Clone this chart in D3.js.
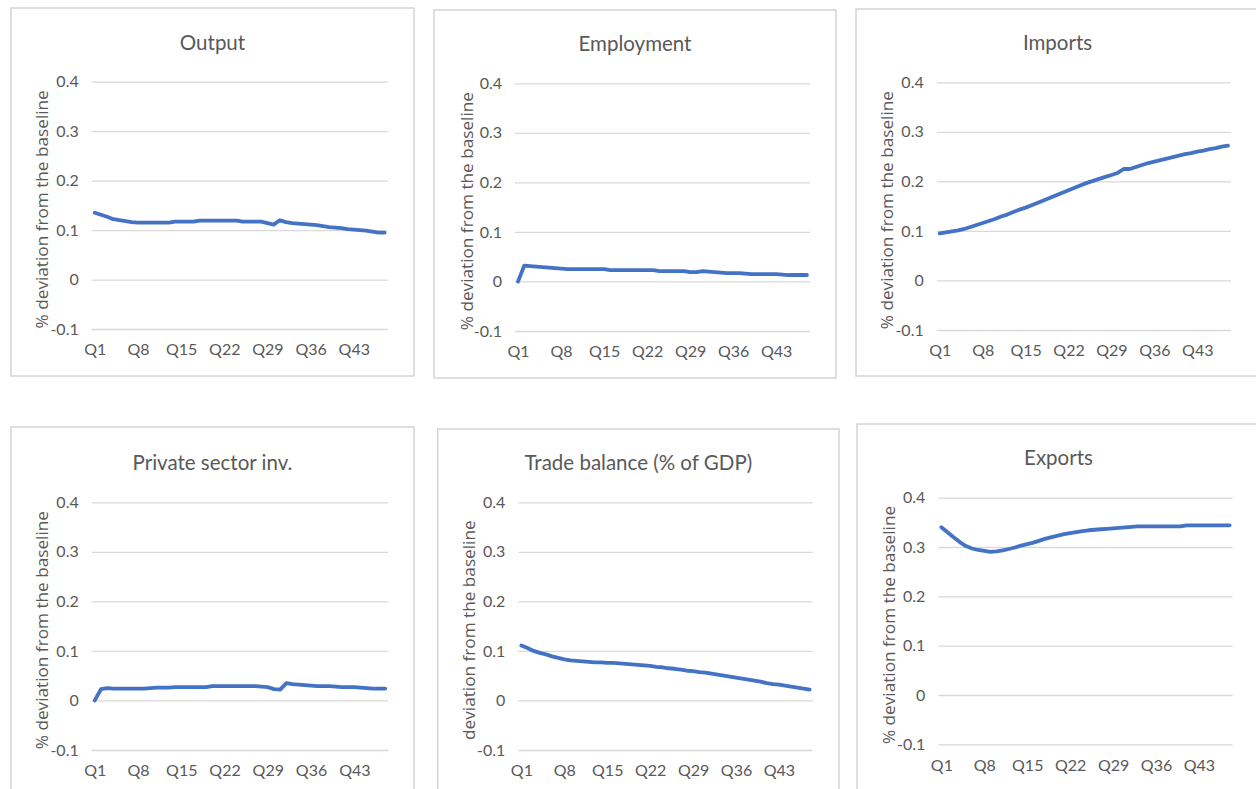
<!DOCTYPE html>
<html>
<head>
<meta charset="utf-8">
<script src="https://cdn.jsdelivr.net/npm/d3@7"></script>
<style>
  html, body { margin: 0; padding: 0; background: #ffffff; }
  svg { display: block; }
</style>
</head>
<body>
<svg id="chart" width="1256" height="789"></svg>
<script>
// ---------------- DATA ----------------
const quarters = ["Q1","Q2","Q3","Q4","Q5","Q6","Q7","Q8","Q9","Q10","Q11","Q12",
  "Q13","Q14","Q15","Q16","Q17","Q18","Q19","Q20","Q21","Q22","Q23","Q24",
  "Q25","Q26","Q27","Q28","Q29","Q30","Q31","Q32","Q33","Q34","Q35","Q36",
  "Q37","Q38","Q39","Q40","Q41","Q42","Q43","Q44","Q45","Q46","Q47","Q48"];
const xTickLabels = ["Q1","Q8","Q15","Q22","Q29","Q36","Q43"];
const yTickValues = [-0.1, 0, 0.1, 0.2, 0.3, 0.4];
const yTickLabels = ["-0.1", "0", "0.1", "0.2", "0.3", "0.4"];

const panelTitles = ["Output", "Employment", "Imports",
                     "Private sector inv.", "Trade balance (% of GDP)", "Exports"];
const axisTitles = ["% deviation from the baseline", "% deviation from the baseline",
                    "% deviation from the baseline", "% deviation from the baseline",
                    "deviation from the baseline", "% deviation from the baseline"];

const output = [0.135,0.131,0.127,0.122,0.120,0.118,0.116,0.115,0.115,0.115,0.115,0.115,
  0.115,0.117,0.117,0.117,0.117,0.119,0.119,0.119,0.119,0.119,0.119,0.119,
  0.117,0.117,0.117,0.117,0.114,0.111,0.120,0.116,0.114,0.113,0.112,0.111,
  0.110,0.108,0.106,0.105,0.104,0.102,0.101,0.100,0.099,0.097,0.095,0.095];
const employment = [0.000,0.032,0.031,0.030,0.029,0.028,0.027,0.026,0.025,0.025,0.025,0.025,
  0.025,0.025,0.025,0.023,0.023,0.023,0.023,0.023,0.023,0.023,0.023,0.021,
  0.021,0.021,0.021,0.021,0.019,0.019,0.021,0.020,0.019,0.018,0.017,0.017,
  0.017,0.016,0.015,0.015,0.015,0.015,0.015,0.014,0.013,0.013,0.013,0.013];
const imports = [0.095,0.097,0.099,0.101,0.104,0.108,0.112,0.116,0.120,0.124,0.129,0.133,
  0.138,0.143,0.147,0.152,0.157,0.162,0.167,0.172,0.177,0.182,0.187,0.192,
  0.197,0.201,0.205,0.209,0.213,0.217,0.225,0.225,0.229,0.233,0.237,0.240,
  0.243,0.246,0.249,0.252,0.255,0.257,0.260,0.262,0.265,0.267,0.270,0.272];
const privateInv = [0.000,0.023,0.025,0.024,0.024,0.024,0.024,0.024,0.024,0.025,0.026,0.026,
  0.026,0.027,0.027,0.027,0.027,0.027,0.027,0.029,0.029,0.029,0.029,0.029,
  0.029,0.029,0.029,0.028,0.027,0.023,0.022,0.035,0.033,0.032,0.031,0.030,
  0.029,0.029,0.029,0.028,0.027,0.027,0.027,0.026,0.025,0.024,0.024,0.024];
const tradeBalance = [0.111,0.106,0.100,0.096,0.093,0.089,0.086,0.083,0.081,0.080,0.079,0.078,
  0.077,0.077,0.076,0.076,0.075,0.074,0.073,0.072,0.071,0.070,0.068,0.067,
  0.065,0.064,0.062,0.060,0.059,0.057,0.056,0.054,0.052,0.050,0.048,0.046,
  0.044,0.042,0.040,0.038,0.035,0.033,0.032,0.030,0.028,0.026,0.024,0.022];
const exportsSeries = [0.340,0.330,0.320,0.310,0.302,0.297,0.294,0.292,0.290,0.291,0.293,0.296,
  0.299,0.303,0.306,0.309,0.313,0.317,0.320,0.323,0.326,0.328,0.330,0.332,
  0.334,0.335,0.336,0.337,0.338,0.339,0.340,0.341,0.342,0.342,0.342,0.342,
  0.342,0.342,0.342,0.342,0.344,0.344,0.344,0.344,0.344,0.344,0.344,0.344];

const seriesList = [output, employment, imports, privateInv, tradeBalance, exportsSeries];

// ---------------- LAYOUT ----------------
const panels = [
  { frame:[11, 8, 403, 368],    plot:[91.7, 81.7, 387.7, 329],   titleY:42,  axisX:41.7 },
  { frame:[434, 10, 402, 368],  plot:[515, 83.3, 810, 331],      titleY:43,  axisX:466.7 },
  { frame:[856, 9, 403, 367],   plot:[936.7, 82.3, 1231, 330],   titleY:42,  axisX:886.7 },
  { frame:[11, 427, 403, 370],  plot:[91.7, 502.3, 388.3, 750],  titleY:462, axisX:41.7 },
  { frame:[437.7, 429, 401.3, 370], plot:[518.3, 502.3, 812.7, 750], titleY:462, axisX:468.3 },
  { frame:[857, 424, 403, 370], plot:[938.3, 497.7, 1232.7, 744.3], titleY:457, axisX:888.3 }
];

const FONT = "Lato, 'Open Sans', sans-serif";
const TEXT = "#595959";
const GRID = "#d9d9d9";
const LINE = "#4472C4";

const svg = d3.select("#chart");

panels.forEach((p, i) => {
  const g = svg.append("g");
  const [fx, fy, fw, fh] = p.frame;
  g.append("rect")
    .attr("x", fx).attr("y", fy).attr("width", fw).attr("height", fh)
    .attr("fill", "#ffffff").attr("stroke", "#d4d4d4").attr("stroke-width", 1.5);

  const [x0, y0, x1, y1] = p.plot;
  const x = d3.scalePoint().domain(quarters).range([x0, x1]).padding(0.5);
  const y = d3.scaleLinear().domain([-0.1, 0.4]).range([y1, y0]);

  // gridlines + y labels via axis
  const yAxis = d3.axisLeft(y).tickValues(yTickValues)
    .tickSize(-(x1 - x0)).tickPadding(13)
    .tickFormat(d => yTickLabels[yTickValues.indexOf(d)]);
  const ya = g.append("g").attr("transform", `translate(${x0},0)`).call(yAxis);
  ya.select(".domain").remove();
  ya.selectAll(".tick line").attr("stroke", GRID).attr("stroke-width", 1.3);
  ya.selectAll(".tick text").attr("fill", TEXT).style("font-family", FONT).style("font-size", "16px");

  // x labels via axis
  const xAxis = d3.axisBottom(x).tickValues(xTickLabels).tickSize(0).tickPadding(15);
  const xa = g.append("g").attr("transform", `translate(0,${y1})`).call(xAxis);
  xa.select(".domain").remove();
  xa.selectAll(".tick text").attr("fill", TEXT).style("font-family", FONT).style("font-size", "16px");

  // line
  const line = d3.line().x((d, k) => x(quarters[k])).y(d => y(d));
  g.append("path").datum(seriesList[i])
    .attr("d", line).attr("fill", "none")
    .attr("stroke", LINE).attr("stroke-width", 3.8)
    .attr("stroke-linejoin", "round").attr("stroke-linecap", "round");

  // title
  g.append("text")
    .attr("x", fx + fw / 2).attr("y", p.titleY)
    .attr("text-anchor", "middle").attr("dominant-baseline", "central")
    .attr("fill", TEXT).style("font-family", FONT).style("font-size", "20.5px")
    .text(panelTitles[i]);

  // axis title
  const cy = (y0 + y1) / 2 + 4;
  g.append("text")
    .attr("transform", `translate(${p.axisX},${cy}) rotate(-90)`)
    .attr("text-anchor", "middle").attr("dominant-baseline", "central")
    .attr("fill", TEXT).style("font-family", "'Open Sans', sans-serif").style("font-size", "17.2px")
    .text(axisTitles[i]);
});
</script>
</body>
</html>
